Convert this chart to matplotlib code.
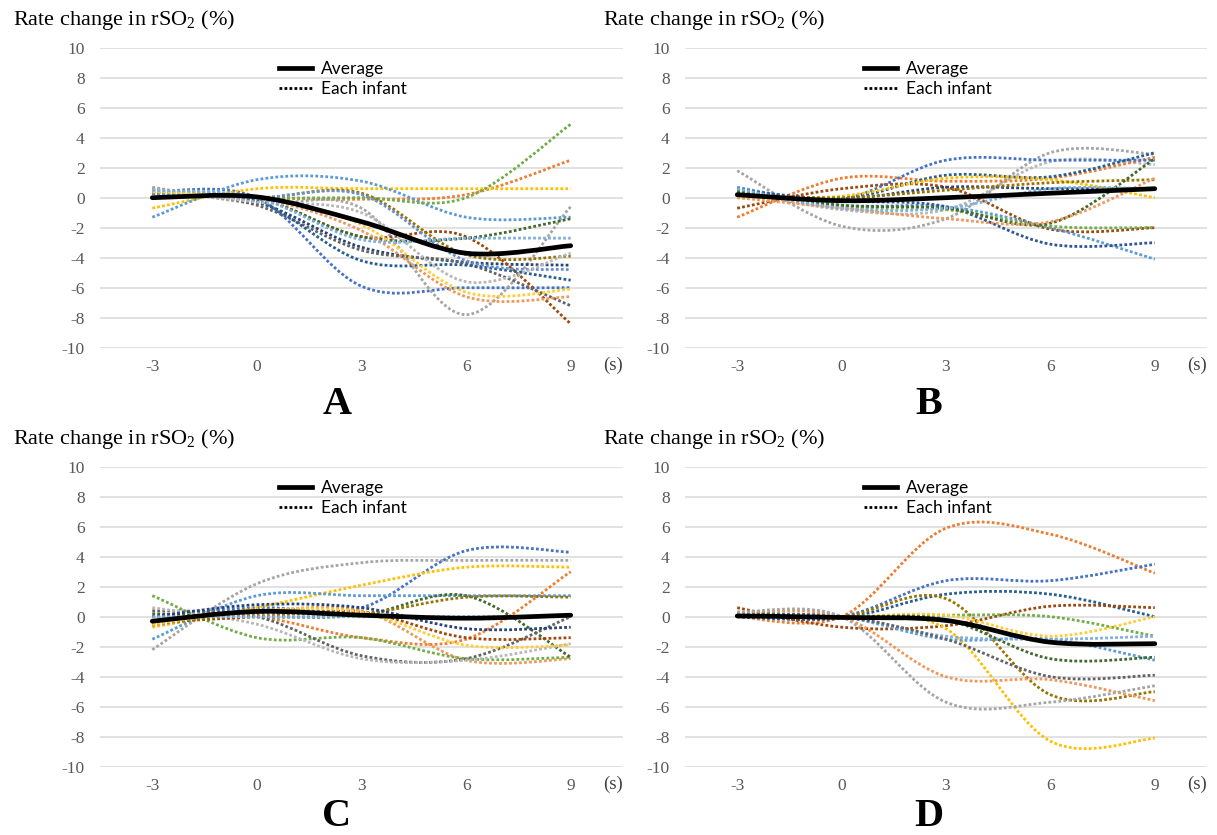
import matplotlib
matplotlib.use('Agg')
import matplotlib.pyplot as plt
from matplotlib.path import Path
from matplotlib.patches import PathPatch
from matplotlib.lines import Line2D

# ---------------- data ----------------
seconds = [-3, 0, 3, 6, 9]
x_tick_labels = ['-3', '0', '3', '6', '9']
y_ticks = [-10, -8, -6, -4, -2, 0, 2, 4, 6, 8, 10]
panel_letters = ['A', 'B', 'C', 'D']
title_text = 'Rate change in rSO$_2$ (%)'
legend_labels = ['Average', 'Each infant']

# Panel A
A_average = [0.0, 0.05, -1.6, -3.7, -3.2]
A_colors = ['#4472C4', '#ED7D31', '#A5A5A5', '#FFC000', '#5B9BD5', '#70AD47',
            '#264478', '#9E480E', '#636363', '#997300', '#255E91', '#43682B',
            '#698ED0', '#F1975A', '#B7B7B7', '#FFCD33', '#7CAFDD']
A_infants = [
    [0.4, 0.0, -5.9, -6.0, -6.0],
    [0.3, 0.0, -0.1, 0.2, 2.5],
    [0.7, -0.4, -0.7, -7.8, -0.6],
    [-0.7, 0.6, 0.6, 0.6, 0.6],
    [-1.3, 1.2, 1.1, -1.3, -1.3],
    [0.3, 0.0, 0.0, 0.0, 4.9],
    [0.5, -0.3, -3.3, -4.3, -4.5],
    [0.4, 0.0, -2.6, -2.6, -8.4],
    [0.6, -0.5, -3.5, -4.4, -7.2],
    [0.5, 0.0, 0.3, -3.8, -3.9],
    [0.4, -0.2, -4.2, -4.5, -5.5],
    [0.3, 0.0, -2.6, -2.7, -1.4],
    [0.3, 0.0, 0.2, -4.2, -4.8],
    [0.5, 0.0, -2.2, -6.6, -6.6],
    [0.6, -0.3, -1.0, -5.6, -3.7],
    [0.4, 0.0, -1.8, -6.3, -6.1],
    [0.5, 0.0, -2.8, -2.7, -2.7],
]

# Panel B
B_average = [0.2, -0.2, 0.0, 0.3, 0.6]
B_colors = ['#A5A5A5', '#B7B7B7', '#ED7D31', '#9E480E', '#5B9BD5', '#4472C4',
            '#2F5597', '#264478', '#255E91', '#FFC000', '#997300', '#70AD47',
            '#43682B', '#F1975A', '#7CAFDD']
B_infants = [
    [1.8, -1.9, -1.4, 3.0, 2.9],
    [0.5, -0.8, -0.8, 2.4, 2.2],
    [-1.3, 1.3, 1.1, 1.3, 2.7],
    [-0.7, 0.6, 0.7, -2.1, -2.0],
    [0.7, -0.5, -0.6, -2.0, -4.1],
    [0.6, -0.1, 2.5, 2.5, 2.5],
    [0.5, -0.2, -0.6, -3.1, -3.0],
    [0.3, -0.1, 0.7, 0.6, 0.6],
    [0.4, -0.1, 1.5, 1.4, 3.0],
    [0.0, 0.1, 1.3, 1.2, 0.0],
    [0.2, 0.0, 0.5, 1.0, 1.2],
    [0.5, -0.6, -0.8, -1.9, -2.0],
    [0.4, -0.5, -0.7, -1.7, 2.6],
    [0.0, -0.7, -1.4, -1.6, 1.3],
    [0.6, -0.7, -0.7, 0.6, 0.6],
]

# Panel C
C_average = [-0.3, 0.35, 0.1, -0.1, 0.1]
C_colors = ['#A5A5A5', '#4472C4', '#FFC000', '#ED7D31', '#F1975A', '#5B9BD5',
            '#70AD47', '#43682B', '#636363', '#B7B7B7', '#9E480E', '#997300',
            '#264478', '#FFCD33', '#7CAFDD']
C_infants = [
    [-2.2, 2.2, 3.6, 3.75, 3.75],
    [0.0, 0.6, 0.6, 4.4, 4.3],
    [-0.7, 0.6, 2.1, 3.3, 3.3],
    [0.0, 0.0, -1.4, -1.5, 3.0],
    [-0.6, 0.3, 0.4, -2.9, -2.8],
    [-1.5, 1.4, 1.4, 1.4, 1.4],
    [1.4, -1.4, -1.4, -2.8, -2.7],
    [0.2, 0.0, 0.1, 1.4, -2.7],
    [0.4, 0.0, -2.6, -2.8, 0.0],
    [0.6, -0.5, -2.8, -2.9, -1.8],
    [-0.4, 0.0, 0.3, -1.4, -1.4],
    [-0.5, 0.2, 0.2, 1.3, 1.3],
    [0.0, 0.8, 0.6, -0.8, -0.7],
    [-0.5, 0.4, 0.3, -1.9, -1.9],
    [0.0, 0.0, 0.0, 0.0, 0.0],
]

# Panel D
D_average = [0.05, -0.05, -0.25, -1.7, -1.8]
D_colors = ['#ED7D31', '#4472C4', '#255E91', '#997300', '#9E480E', '#70AD47',
            '#FFC000', '#FFCD33', '#5B9BD5', '#7CAFDD', '#43682B', '#636363',
            '#F1975A', '#A5A5A5']
D_infants = [
    [0.0, 0.0, 5.9, 5.5, 2.9],
    [0.0, 0.0, 2.4, 2.4, 3.5],
    [0.0, -0.1, 1.5, 1.5, 0.0],
    [0.2, 0.0, 1.2, -5.2, -5.0],
    [0.6, -0.7, -0.6, 0.7, 0.6],
    [0.2, 0.0, 0.1, 0.0, -1.3],
    [0.0, -0.1, -0.8, -8.3, -8.1],
    [0.1, 0.0, 0.1, -1.3, 0.0],
    [0.2, 0.0, -1.5, -1.5, -2.9],
    [0.1, 0.0, -1.3, -1.5, -1.3],
    [0.3, 0.0, -0.2, -2.8, -2.7],
    [0.1, 0.0, -1.5, -4.0, -3.9],
    [0.3, 0.0, -4.0, -4.2, -5.6],
    [0.3, 0.0, -5.7, -5.7, -4.6],
]

panels = [
    (A_average, A_infants, A_colors),
    (B_average, B_infants, B_colors),
    (C_average, C_infants, C_colors),
    (D_average, D_infants, D_colors),
]

# ---------------- style ----------------
plt.rcParams['mathtext.fontset'] = 'custom'
plt.rcParams['mathtext.rm'] = 'Liberation Serif'
plt.rcParams['mathtext.it'] = 'Liberation Serif:italic'
SERIF = 'Liberation Serif'
SANS = 'Lato'
DOT = (0, (1, 0.8))


def smooth_path(xs, ys):
    """Excel-style smoothed line as cubic Bezier segments."""
    n = len(xs)
    verts = [(xs[0], ys[0])]
    codes = [Path.MOVETO]
    for i in range(n - 1):
        xp, yp = (xs[i - 1], ys[i - 1]) if i > 0 else (xs[i], ys[i])
        xn, yn = (xs[i + 2], ys[i + 2]) if i + 2 < n else (xs[i + 1], ys[i + 1])
        c1 = (xs[i] + (xs[i + 1] - xp) / 6.0, ys[i] + (ys[i + 1] - yp) / 6.0)
        c2 = (xs[i + 1] - (xn - xs[i]) / 6.0, ys[i + 1] - (yn - ys[i]) / 6.0)
        verts += [c1, c2, (xs[i + 1], ys[i + 1])]
        codes += [Path.CURVE4] * 3
    return Path(verts, codes)


W, H = 1217, 835
fig = plt.figure(figsize=(W / 100, H / 100), dpi=100)

# axes rectangles in pixels: (left, top, right, bottom)
rects = [
    (100, 47.7, 623, 347.7),
    (685, 47.7, 1207, 347.7),
    (100, 466.7, 623, 766.7),
    (685, 466.7, 1207, 766.7),
]
title_pos = [(13, 20), (603, 20), (13, 439), (603, 439)]
letter_pos = [(337, 414), (929, 414), (337, 826), (929, 826)]

for k, (avg, infants, cols) in enumerate(panels):
    l, t, r, b = rects[k]
    ax = fig.add_axes([l / W, 1 - b / H, (r - l) / W, (b - t) / H])
    ax.set_xlim(-4.5, 10.5)
    ax.set_ylim(-10, 10)
    ax.set_yticks(y_ticks)
    ax.set_yticklabels([str(v) for v in y_ticks])
    ax.set_xticks(seconds)
    ax.set_xticklabels(x_tick_labels)
    ax.grid(axis='y', color='#D9D9D9', lw=1.1)
    ax.set_axisbelow(True)
    for s in ax.spines.values():
        s.set_visible(False)
    ax.tick_params(axis='both', length=0, labelcolor='#595959', labelsize=12.5)
    ax.tick_params(axis='x', pad=8)
    ax.tick_params(axis='y', pad=11)
    for lab in ax.get_xticklabels() + ax.get_yticklabels():
        lab.set_fontfamily(SERIF)

    for vals, c in zip(infants, cols):
        p = PathPatch(smooth_path(seconds, vals), fill=False, edgecolor=c,
                      lw=2.0, linestyle=DOT, capstyle='butt', zorder=2)
        ax.add_patch(p)
    ax.add_patch(PathPatch(smooth_path(seconds, avg), fill=False,
                           edgecolor='black', lw=3.4, capstyle='round',
                           joinstyle='round', zorder=3))

    handles = [Line2D([], [], color='black', lw=3.4),
               Line2D([], [], color='black', lw=2.0, linestyle=DOT)]
    ax.legend(handles, legend_labels, loc='upper left',
              bbox_to_anchor=(0.342, 0.955), frameon=False,
              prop={'family': SANS, 'size': 12.5}, handlelength=1.9,
              handletextpad=0.55, labelspacing=0.22, borderpad=0,
              borderaxespad=0)

    ax.text(0.98, -0.058, '(s)', transform=ax.transAxes, ha='center',
            va='center', fontsize=13.5, color='#404040', family=SERIF)

    tx, ty = title_pos[k]
    fig.text(tx / W, 1 - ty / H, title_text, ha='left', va='center',
             fontsize=16, family=SERIF, color='black')
    lx, ly = letter_pos[k]
    fig.text(lx / W, 1 - ly / H, panel_letters[k], ha='center',
             va='baseline', fontsize=29, family=SERIF, fontweight='bold',
             color='black')

fig.savefig('out.png', dpi=100, facecolor='white')
